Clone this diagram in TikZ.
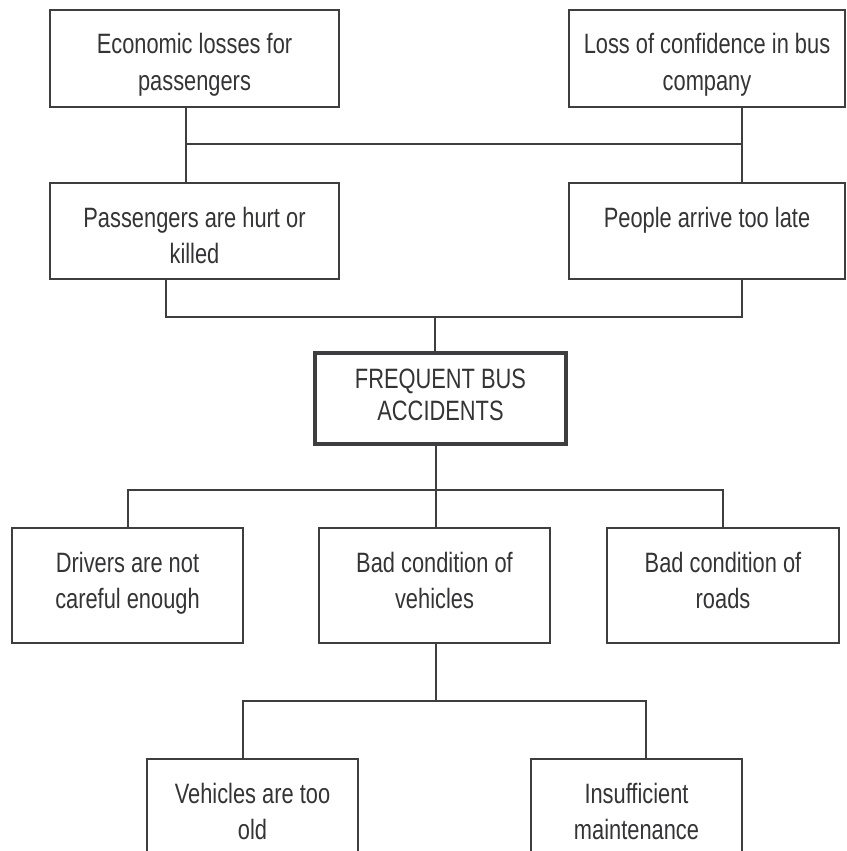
\documentclass[tikz,border=0pt]{standalone}
\usepackage{fontspec}
\setmainfont{Liberation Sans}[FakeStretch=0.78]
\usepackage{tikz}
\usetikzlibrary{positioning, calc}
\usepackage{xcolor}
\definecolor{linegray}{RGB}{62,62,64}
\definecolor{textgray}{RGB}{52,52,54}

% text set from the top of a box of given width and height
\newcommand{\boxtext}[4][44pt]{\parbox[c][#3][t]{#2}{\centering\rule{0pt}{#1}#4}}

\tikzset{
  box/.style={draw=linegray, line width=1.8pt, inner sep=0pt, text=textgray,
    font=\fontsize{28}{36.5}\selectfont},
  mainbox/.style={box, line width=3.2pt, font=\fontsize{28}{32}\selectfont},
  link/.style={draw=linegray, line width=1.8pt}
}

\begin{document}
\begin{tikzpicture}[x=1pt, y=-1pt]
  \clip (0,0) rectangle (846,851);

  % Effects
  \node[box] (econ) at (194.5,58.5) {\boxtext{289pt}{97pt}{Economic losses for\\passengers}};
  \node[box] (conf) at (707,58.5) {\boxtext{276pt}{97pt}{Loss of confidence in bus\\company}};
  \node[box] (hurt) at (194.5,231) {\boxtext{289pt}{96pt}{Passengers are hurt or\\killed}};
  \node[box] (late) at (707,231) {\boxtext{276pt}{96pt}{People arrive too late}};

  % Core problem
  \node[mainbox] (acc) at (440.5,398.5) {\boxtext[35pt]{251pt}{91pt}{FREQUENT BUS\\ACCIDENTS}};

  % Causes
  \node[box] (drv) at (127.5,585.5) {\boxtext{231pt}{115pt}{Drivers are not\\careful enough}};
  \node[box] (veh) at (434.5,585.5) {\boxtext{231pt}{115pt}{Bad condition of\\vehicles}};
  \node[box] (road) at (723,585.5) {\boxtext{232pt}{115pt}{Bad condition of\\roads}};
  \node[box] (old) at (252.5,819) {\boxtext{211pt}{120pt}{Vehicles are too\\old}};
  \node[box] (mnt) at (636.5,819) {\boxtext{211pt}{120pt}{Insufficient\\maintenance}};

  % Junctions
  \coordinate (ja) at (186,144);
  \coordinate (jb) at (742,144);
  \coordinate (jc) at (166,317);
  \coordinate (jd) at (742,317);
  \coordinate (je) at (435,317);
  \coordinate (jf) at (128,490);
  \coordinate (jg) at (723,490);
  \coordinate (jh) at (436,490);
  \coordinate (ji) at (243,701);
  \coordinate (jj) at (646,701);
  \coordinate (jk) at (436,701);

  % Connectors
  \draw[link] (econ.south -| ja) -- (hurt.north -| ja);
  \draw[link] (conf.south -| jb) -- (late.north -| jb);
  \draw[link] (ja) -- (jb);
  \draw[link] (hurt.south -| jc) -- (jc) -- (jd) -- (late.south -| jd);
  \draw[link] (je) -- (acc.north -| je);
  \draw[link] (acc.south -| jh) -- (veh.north -| jh);
  \draw[link] (drv.north -| jf) -- (jf) -- (jg) -- (road.north -| jg);
  \draw[link] (veh.south -| jk) -- (jk);
  \draw[link] (old.north -| ji) -- (ji) -- (jj) -- (mnt.north -| jj);
\end{tikzpicture}
\end{document}
